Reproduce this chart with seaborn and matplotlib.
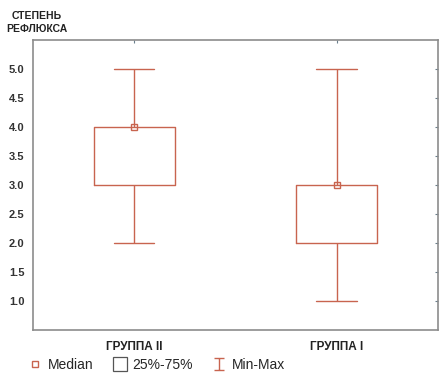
import pandas as pd
import seaborn as sns
import matplotlib.pyplot as plt
from matplotlib.lines import Line2D
from matplotlib.path import Path

# data: per-group summary (min, 25%, median, 75%, max)
groups = ['ГРУППА II', 'ГРУППА I']
mins = [2.0, 1.0]
q1s = [3.0, 2.0]
medians = [4.0, 3.0]
q3s = [4.0, 3.0]
maxs = [5.0, 5.0]

col = '#c8644f'
grey = '#8c8c8c'

# five values per group reproduce the summary exactly with linear percentiles
rows = []
for g, a, b, c, d, e in zip(groups, mins, q1s, medians, q3s, maxs):
    for v in (a, b, c, d, e):
        rows.append({'group': g, 'value': v})
df = pd.DataFrame(rows)

sns.set_style('white')
plt.rcParams['font.family'] = ['Liberation Sans', 'DejaVu Sans']

fig = plt.figure(figsize=(4.46, 3.76), dpi=100)
ax = fig.add_axes([0.074, 0.122, 0.908, 0.772])

sns.boxplot(data=df, x='group', y='value', order=groups, whis=(0, 100),
            width=0.4, fill=False, color=col, linewidth=1.0,
            medianprops={'color': col, 'linewidth': 0},
            showfliers=False, ax=ax)
sns.pointplot(data=df, x='group', y='value', order=groups, estimator='median',
              errorbar=None, linestyle='none', marker='s', markersize=4,
              markerfacecolor='none', markeredgecolor=col, markeredgewidth=1.0,
              color=col, ax=ax)

ax.set_xlim(-0.5, 1.5)
ax.set_ylim(0.5, 5.5)
ax.set_yticks([1.0, 1.5, 2.0, 2.5, 3.0, 3.5, 4.0, 4.5, 5.0])
ax.set_yticklabels([f'{v:.1f}' for v in ax.get_yticks()], fontsize=8,
                   fontweight='semibold', color='#333333')
ax.set_xticks([0, 1])
ax.set_xticklabels(groups, fontsize=8.5, fontweight='bold', color='#222222')
ax.set_xlabel('')
ax.set_ylabel('')
ax.tick_params(axis='both', which='both', length=2, width=0.8, color='#6a7f8c',
               top=True, right=True, direction='in', pad=6)
ax.tick_params(axis='x', pad=8)
for s in ax.spines.values():
    s.set_color(grey)
    s.set_linewidth(1.2)

fig.text(0.083, 0.97, 'СТЕПЕНЬ\nРЕФЛЮКСА', fontsize=7.5, fontweight='bold',
         va='top', ha='center', multialignment='center', color='#222222',
         linespacing=1.3)

# legend
imark = Path([(-0.8, -1), (0.8, -1), (0, -1), (0, 1), (-0.8, 1), (0.8, 1)],
             [Path.MOVETO, Path.LINETO, Path.MOVETO, Path.LINETO,
              Path.MOVETO, Path.LINETO])
handles = [
    Line2D([], [], linestyle='none', marker='s', markersize=5,
           markerfacecolor='none', markeredgecolor=col),
    Line2D([], [], linestyle='none', marker='s', markersize=10,
           markerfacecolor='white', markeredgecolor='#555555',
           markeredgewidth=0.9),
    Line2D([], [], linestyle='none', marker=imark, markersize=9,
           markeredgecolor=col, markeredgewidth=1.0),
]
fig.legend(handles, ['Median', '25%-75%', 'Min-Max'], loc='lower left',
           bbox_to_anchor=(0.035, -0.022), ncol=3, frameon=False, fontsize=10,
           handlelength=1.0, handletextpad=0.4, columnspacing=1.4)

fig.savefig('out.png', dpi=100)
